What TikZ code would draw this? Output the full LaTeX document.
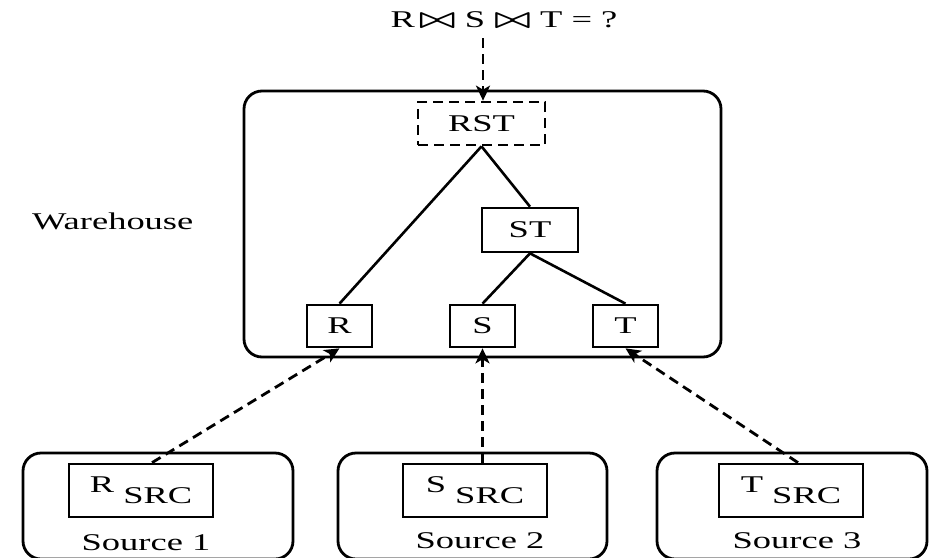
\RequirePackage{fix-cm}
\documentclass[tikz,border=0pt]{standalone}
\usepackage{fontspec}
\setmainfont{Liberation Serif}[FakeStretch=1.52]
\usetikzlibrary{arrows.meta}
\newcommand{\bt}{\scalebox{1.6}[1.15]{\boldmath$\bowtie$}}
\begin{document}
\begin{tikzpicture}[x=1pt,y=-1pt,
  every node/.style={font=\fontsize{24}{28}\selectfont},
  box/.style={draw,line width=2.7pt,inner sep=0pt},
  dbox/.style={box,dash pattern=on 10pt off 6pt},
  round/.style={draw,line width=2.8pt,rounded corners=18pt},
  link/.style={line width=2.6pt},
  feed/.style={line width=2.8pt,dash pattern=on 10pt off 6pt,-{Stealth[length=15pt,width=14pt,inset=4pt]}},
  lbl/.style={anchor=base,inner sep=0pt}]
\clip (0,0) rectangle (931,557);
% warehouse
\draw[round] (244,91) rectangle (721,357);
\node[lbl,anchor=base west] (wh) at (32,229) {Warehouse};
% formula
\node[lbl] (formula) at (504,27) {R\,\bt\ S \bt\ T = ?};
\coordinate (q) at (483,38);
% warehouse nodes
\node[dbox,minimum width=127pt,minimum height=43pt] (RST) at (481.5,123.5) {RST};
\node[box,minimum width=96pt,minimum height=44pt] (ST) at (530,230) {ST};
\node[box,minimum width=65pt,minimum height=42pt] (R) at (339.5,326) {R};
\node[box,minimum width=65pt,minimum height=42pt] (S) at (482.5,326) {S};
\node[box,minimum width=65pt,minimum height=42pt] (T) at (625.5,326) {T};
% sources
\draw[round] (23,453) rectangle (293,559);
\draw[round] (338,453) rectangle (607,559);
\draw[round] (657,453) rectangle (927,559);
\node[box,minimum width=144pt,minimum height=53pt] (Rsrc) at (141,490.5) {R \raisebox{-11pt}{SRC}};
\node[box,minimum width=144pt,minimum height=53pt] (Ssrc) at (475,490.5) {S \raisebox{-11pt}{SRC}};
\node[box,minimum width=144pt,minimum height=53pt] (Tsrc) at (791,490.5) {T \raisebox{-11pt}{SRC}};
\node[lbl] (s1) at (146,550) {Source 1};
\node[lbl] (s2) at (480,548) {Source 2};
\node[lbl] (s3) at (797,548) {Source 3};
% connectors
\draw[feed] (q) -- (q |- RST.north);
\draw[link] (RST.south) -- (R.north);
\draw[link] (RST.south) -- (ST.north);
\draw[link] (ST.south) -- (S.north);
\draw[link] (ST.south) -- (T.north);
\draw[feed] ([xshift=11pt]Rsrc.north) -- (R.south);
\draw[feed] (S.south |- Ssrc.north) -- (S.south);
\draw[feed] ([xshift=7pt]Tsrc.north) -- (T.south);
\end{tikzpicture}
\end{document}
